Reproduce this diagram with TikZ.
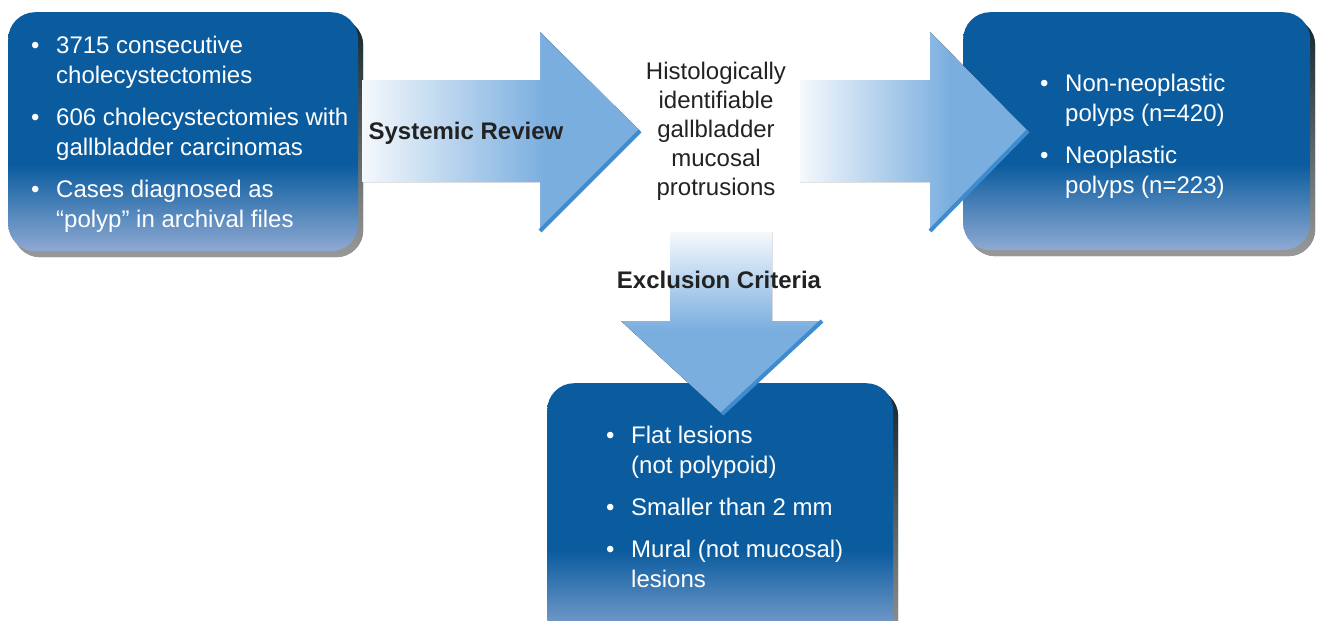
\documentclass[tikz,border=0pt]{standalone}
\usepackage{fontspec}
\setmainfont{Liberation Sans}
\usetikzlibrary{shadows}

\definecolor{boxdark}{HTML}{0B5C9F}
\definecolor{boxlight}{HTML}{8FAAD3}
\definecolor{arrowblue}{HTML}{7AAEDF}
\definecolor{arrowedge}{HTML}{3E8CCF}
\definecolor{shadowtop}{HTML}{13262E}
\definecolor{labelgray}{HTML}{222222}

\pgfdeclareverticalshading{boxshade}{100bp}{color(0bp)=(boxlight); color(25bp)=(boxlight); color(43bp)=(boxdark); color(100bp)=(boxdark)}
\pgfdeclarehorizontalshading{arrowshadeh}{100bp}{color(0bp)=(white); color(25bp)=(white!92!arrowblue); color(58bp)=(arrowblue); color(100bp)=(arrowblue)}
\pgfdeclareverticalshading{arrowshadev}{100bp}{color(0bp)=(arrowblue); color(48bp)=(arrowblue); color(75bp)=(white!92!arrowblue); color(100bp)=(white)}

\newcommand\bitem[1]{\makebox[25pt][l]{\textbullet}#1}
\newcommand\bcont[1]{\hspace*{25pt}#1}

\begin{document}
\begin{tikzpicture}[x=1pt,y=-1pt,
  infobox/.style={rounded corners=27pt, shading=boxshade, inner sep=0pt, anchor=north west,
    drop shadow={shadow xshift=5pt, shadow yshift=-6pt, opacity=1, top color=shadowtop, bottom color=gray!80}},
  boxtext/.style={text=white, align=left, anchor=north west, inner sep=0pt, font=\fontsize{24}{30}\selectfont},
  edge/.style={arrowedge, line width=4pt},
  label/.style={text=labelgray, inner sep=0pt, anchor=base, font=\fontsize{24}{30}\selectfont\bfseries}]

  \clip (0,0) rectangle (1320,621);

  % Boxes
  \node[infobox, minimum width=350pt, minimum height=239pt] (sources) at (8,12) {};
  \node[infobox, minimum width=347pt, minimum height=238pt] (polyps) at (963,12) {};
  \node[infobox, minimum width=346pt, minimum height=262pt] (excluded) at (547,383) {};

  % Systemic review arrow
  \fill[shading=arrowshadeh] (362,80) -- (540,80) -- (540,32) -- (640,131) -- (540,231) -- (540,182) -- (362,182) -- cycle;
  \draw[edge] (640,131) -- (540,231);
  \node[label] (review) at (466,139) {Systemic Review};

  % Arrow into the results
  \fill[shading=arrowshadeh] (800,80) -- (930,80) -- (930,32) -- (1028,131) -- (930,231) -- (930,182) -- (800,182) -- cycle;
  \draw[edge] (1028,131) -- (930,231);

  % Exclusion arrow
  \fill[shading=arrowshadev] (670,232) -- (772,232) -- (772,321) -- (822,321) -- (722,414) -- (621,321) -- (670,321) -- cycle;
  \draw[edge] (822,321) -- (722,414);
  \node[label] (criteria) at (719,288) {Exclusion Criteria};

  % Middle text
  \node[text=labelgray, align=center, inner sep=0pt, font=\fontsize{24}{29}\selectfont] (protrusions) at (716,131)
    {Histologically\\identifiable\\gallbladder\\mucosal\\protrusions};

  % Box texts
  \node[boxtext] (sourcetext) at (31,36) {\bitem{3715 consecutive}\\ \bcont{cholecystectomies}\\[12pt]
    \bitem{606 cholecystectomies with}\\ \bcont{gallbladder carcinomas}\\[12pt]
    \bitem{Cases diagnosed as}\\ \bcont{“polyp” in archival files}};
  \node[boxtext] (polyptext) at (1040,74) {\bitem{Non-neoplastic}\\ \bcont{polyps (n=420)}\\[12pt]
    \bitem{Neoplastic}\\ \bcont{polyps (n=223)}};
  \node[boxtext] (excludedtext) at (606,426) {\bitem{Flat lesions}\\ \bcont{(not polypoid)}\\[12pt]
    \bitem{Smaller than 2 mm}\\[12pt]
    \bitem{Mural (not mucosal)}\\ \bcont{lesions}};

\end{tikzpicture}
\end{document}
